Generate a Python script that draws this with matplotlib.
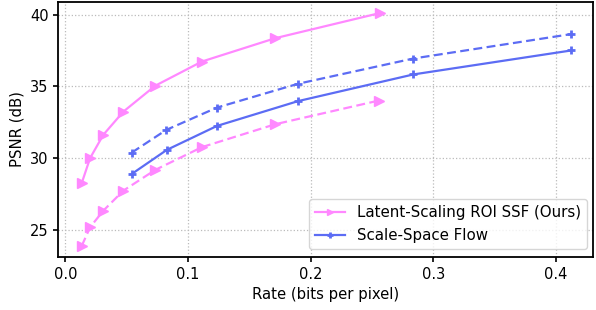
import matplotlib
matplotlib.use('Agg')
import matplotlib.pyplot as plt

# solid = ROI PSNR, dashed = non-ROI PSNR
ours_rate = [0.0134, 0.0202, 0.031, 0.0474, 0.0733, 0.1114, 0.1713, 0.2565]
ours_psnr = [28.26, 30.0, 31.63, 33.25, 35.05, 36.74, 38.37, 40.12]
ours_rate_bg = [0.0134, 0.0202, 0.031, 0.0474, 0.0733, 0.1114, 0.1713, 0.2557]
ours_psnr_bg = [23.88, 25.18, 26.34, 27.74, 29.18, 30.77, 32.37, 34.02]

ssf_rate = [0.0542, 0.0828, 0.1237, 0.1898, 0.2838, 0.4123]
ssf_psnr = [28.9, 30.58, 32.25, 33.98, 35.84, 37.51]
ssf_rate_b = [0.0542, 0.0823, 0.1237, 0.1898, 0.2838, 0.4123]
ssf_psnr_b = [30.39, 31.97, 33.53, 35.19, 36.95, 38.65]

pink = '#ff88ff'
blue = '#5c6cf4'

fig = plt.figure(figsize=(5.96, 3.10), dpi=100)
ax = fig.add_axes([0.098, 0.171, 0.897, 0.823])

ax.plot(ours_rate, ours_psnr, color=pink, marker='>', ms=7, lw=1.6,
        label='Latent-Scaling ROI SSF (Ours)')
ax.plot(ours_rate_bg, ours_psnr_bg, color=pink, marker='>', ms=7, lw=1.6,
        ls=(0, (4, 2)))
ax.plot(ssf_rate, ssf_psnr, color=blue, marker='+', ms=6, mew=2, lw=1.6,
        label='Scale-Space Flow')
ax.plot(ssf_rate_b, ssf_psnr_b, color=blue, marker='+', ms=6, mew=2, lw=1.6,
        ls=(0, (4, 2)))

ax.set_xlim(-0.0056, 0.4302)
ax.set_ylim(23.11, 40.9)
ax.set_xticks([0.0, 0.1, 0.2, 0.3, 0.4])
ax.set_yticks([25, 30, 35, 40])
ax.grid(True, ls=':', color='#bbbbbb', lw=0.9)
for s in ax.spines.values():
    s.set_linewidth(1.3)
ax.tick_params(labelsize=10.5, width=1.2)
ax.set_xlabel('Rate (bits per pixel)', fontsize=10.7)
ax.set_ylabel('PSNR (dB)', fontsize=10.7)
ax.legend(loc='lower right', fontsize=10.8, markerscale=0.7,
          bbox_to_anchor=(0.994, 0.02), borderaxespad=0.2)

fig.savefig('out.png', dpi=100)
